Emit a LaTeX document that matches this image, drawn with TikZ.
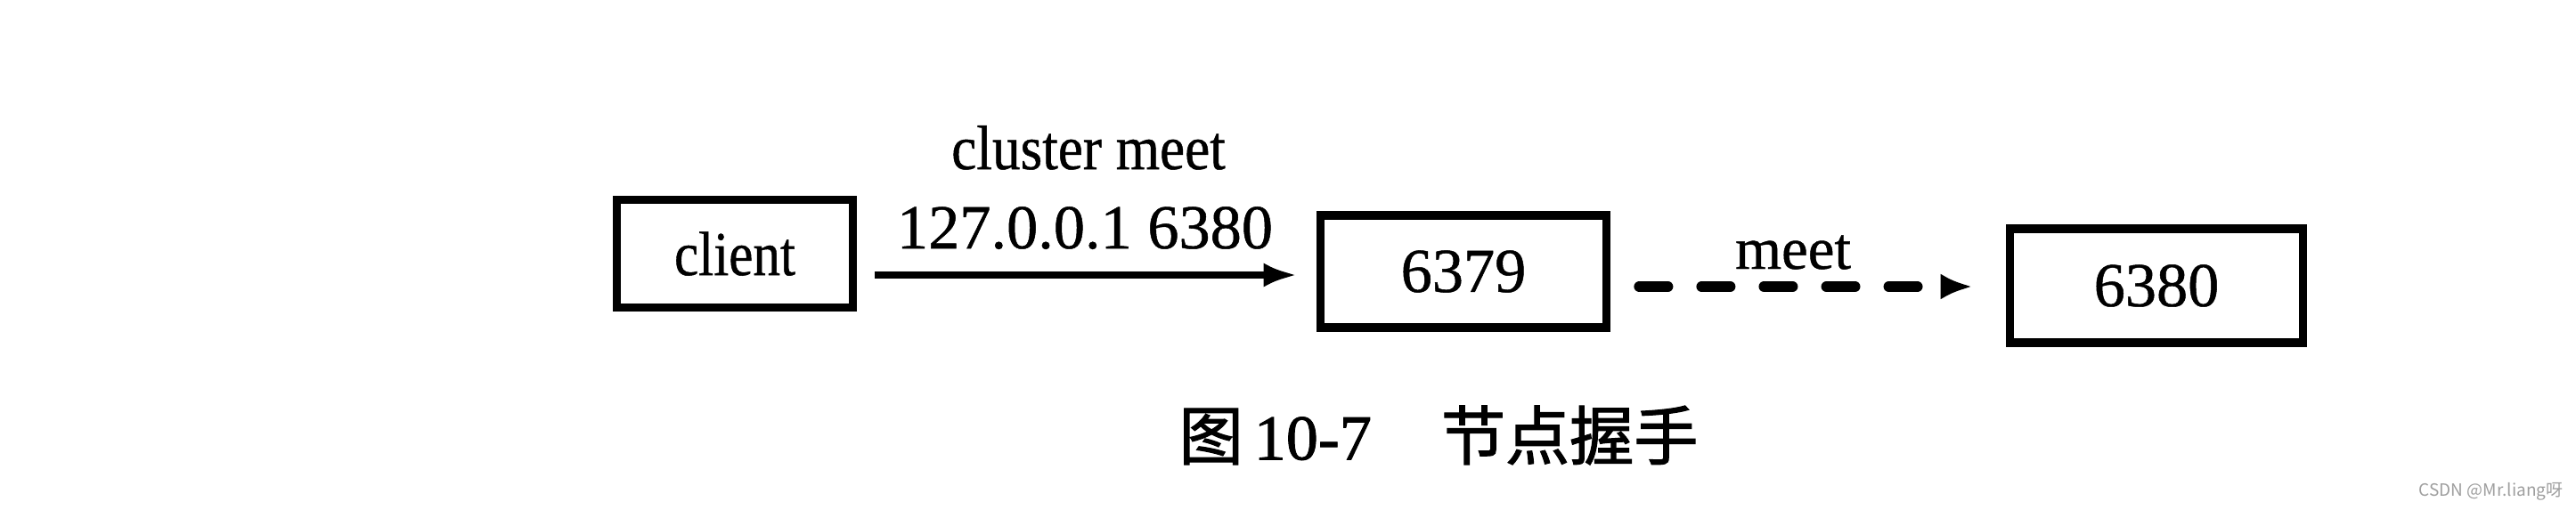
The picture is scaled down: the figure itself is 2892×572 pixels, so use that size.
\documentclass[tikz,border=0pt]{standalone}
\usepackage{fontspec}
\setmainfont{Liberation Serif}[FakeBold=0.7,AutoFakeBold=2]
\newfontfamily\cjk{Noto Sans CJK SC}[FakeBold=1.6]
\newfontfamily\wmfont{Noto Sans CJK SC}
\newfontfamily\capdigits{Liberation Serif}[FakeBold=1.2]
\usetikzlibrary{arrows.meta,calc}
\tikzset{
  box/.style={draw=black, line width=0.095cm, inner sep=0pt, font=\fontsize{20}{24}\selectfont},
  solidarrow/.style={line width=0.085cm, -{Latex[length=0.38cm,width=0.27cm]}},
  dasharrow/.style={line width=0.12cm, line cap=round, dash pattern=on 0.32cm off 0.38cm,
     -{Latex[length=0.36cm,width=0.29cm,line cap=butt]}},
  lbl/.style={inner sep=0pt, anchor=base, font=\fontsize{20}{24}\selectfont},
}
\begin{document}
\begin{tikzpicture}[x=0.01cm, y=-0.01cm]
\fill[white] (0,0) rectangle (2892,572);
\useasboundingbox (0,0) rectangle (2892,572);

\node[box, minimum width=2.65cm, minimum height=1.21cm] (client) at (825,285) {\scalebox{0.87}[1]{client}};
\node[box, minimum width=3.21cm, minimum height=1.26cm] (n6379) at (1643,305) {6379};
\node[box, minimum width=3.29cm, minimum height=1.28cm] (n6380) at (2421,321) {6380};

\draw[solidarrow] ($(client.east)+(20,24)$) -- ($(n6379.west)+(-21,4)$);
\draw[dasharrow] ($(n6379.east)+(32,17)$) -- ($(n6380.west)+(-37,1)$);

\node[lbl] (l1) at (1222,190) {\scalebox{0.9}[1]{cluster meet}};
\node[lbl] (l2) at (1218,279) {127.0.0.1 6380};
\node[lbl, font=\fontsize{19}{22}\selectfont] (l3) at (2013,302) {meet};

\node[inner sep=0pt, font=\fontsize{20.5}{24}\selectfont] (cap) at (1615,489)
  {{\cjk 图}\hspace{0.12cm}{\capdigits 10-7}\hspace{0.78cm}{\cjk 节点握手}};

\node[inner sep=0pt, anchor=east, text=black!38, font=\wmfont\fontsize{5.4}{6}\selectfont] (wm) at (2878,552) {CSDN @Mr.liang呀};
\end{tikzpicture}
\end{document}
